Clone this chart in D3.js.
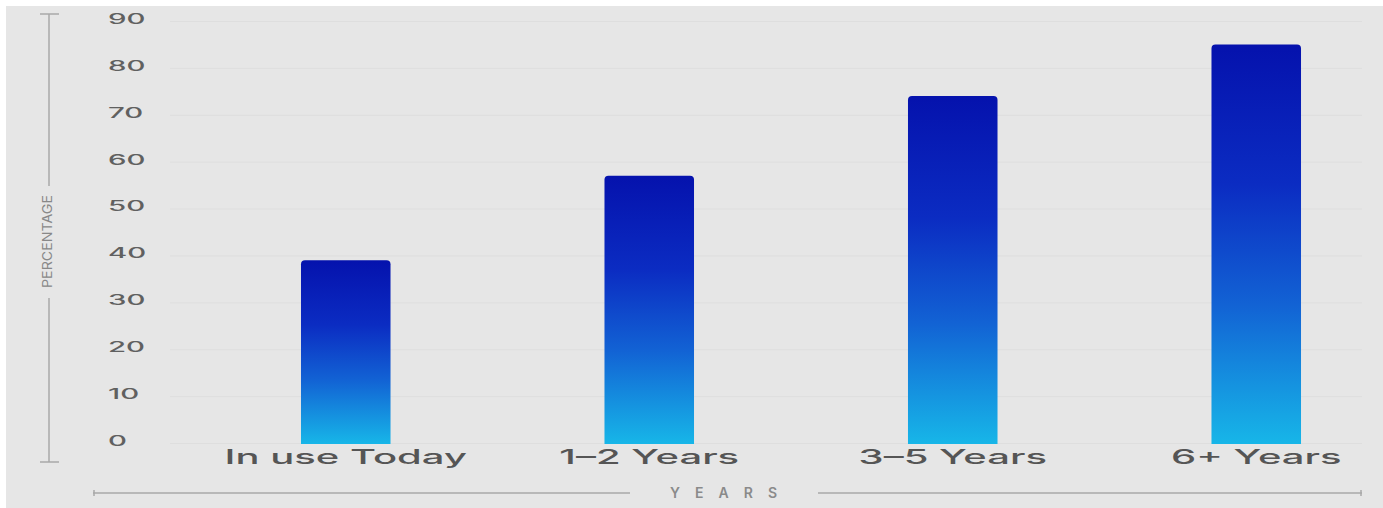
<!DOCTYPE html>
<html>
<head>
<meta charset="utf-8">
<script src="https://cdn.jsdelivr.net/npm/d3@7/dist/d3.min.js"></script>
<style>
  html, body { margin: 0; padding: 0; background: #ffffff; }
  svg { display: block; }
  text { font-family: Inter, "Noto Sans", sans-serif; }
</style>
</head>
<body>
<svg id="chart" width="1383" height="508"></svg>
<script>
// Share of respondents by adoption horizon
const categories = ["In use Today", "1\u20132 Years", "3\u20135 Years", "6+ Years"];
const percentages = [39, 57, 74, 85];
const yTicks = [0, 10, 20, 30, 40, 50, 60, 70, 80, 90];
const yTitle = "PERCENTAGE";
const xTitle = "YEARS";

const W = 1383, H = 508;
const svg = d3.select("#chart");

// panel
svg.append("rect").attr("x", 6).attr("y", 6).attr("width", W - 6).attr("height", H - 6)
  .attr("fill", "#e6e6e6");

const x = d3.scaleBand().domain(categories).range([194, 1408])
  .paddingInner(0.705).paddingOuter(0.3525);
const y = d3.scaleLinear().domain([0, 90]).range([443, 21]);

// bar gradient: deep blue at top fading to cyan at the base
const defs = svg.append("defs");
const grad = defs.append("linearGradient").attr("id", "barGrad")
  .attr("x1", 0).attr("y1", 0).attr("x2", 0).attr("y2", 1);
[[0, "#0512ad"], [0.35, "#0b2cc2"], [0.65, "#1262d4"], [1, "#17b6e8"]].forEach(([o, c]) =>
  grad.append("stop").attr("offset", o).attr("stop-color", c));

// grid lines
const yAxis = d3.axisLeft(y).tickValues(yTicks).tickSize(-(1362 - 170)).tickFormat("");
svg.append("g").attr("transform", "translate(170,0)").call(yAxis)
  .call(g => g.select(".domain").remove())
  .call(g => g.selectAll(".tick line").attr("stroke", "#dedede").attr("stroke-width", 1));

// tick labels (wide lettering)
const tickG = svg.append("g");
tickG.selectAll("text").data(yTicks).join("text")
  .attr("transform", d => `translate(108,${y(d) - 2}) scale(2.1,1)`)
  .attr("dominant-baseline", "central")
  .attr("font-size", 14).attr("font-weight", 500).attr("fill", "#606060")
  .text(d => d);

// bars with rounded top corners
const r = 4;
svg.append("g").selectAll("path").data(percentages).join("path")
  .attr("fill", "url(#barGrad)")
  .attr("d", (d, i) => {
    const x0 = x(categories[i]), w = x.bandwidth(), yt = y(d), yb = y(0) + 1;
    return `M${x0},${yb}V${yt + r}Q${x0},${yt} ${x0 + r},${yt}H${x0 + w - r}Q${x0 + w},${yt} ${x0 + w},${yt + r}V${yb}Z`;
  });

// category labels
svg.append("g").selectAll("text").data(categories).join("text")
  .attr("transform", d => `translate(${x(d) + x.bandwidth() / 2},464) scale(2.0,1)`)
  .attr("text-anchor", "middle")
  .attr("font-size", 20).attr("font-weight", 500).attr("fill", "#555555")
  .text(d => d);

// y-axis title with bracket line
const axisCol = "#a8a8a8";
const yLine = svg.append("g").attr("stroke", axisCol).attr("stroke-width", 1.5);
yLine.append("line").attr("x1", 49).attr("x2", 49).attr("y1", 14).attr("y2", 186);
yLine.append("line").attr("x1", 49).attr("x2", 49).attr("y1", 298).attr("y2", 462);
yLine.append("line").attr("x1", 40).attr("x2", 59).attr("y1", 14).attr("y2", 14);
yLine.append("line").attr("x1", 40).attr("x2", 59).attr("y1", 462).attr("y2", 462);
svg.append("text")
  .attr("transform", "translate(47,241.5) rotate(-90)")
  .attr("text-anchor", "middle").attr("dominant-baseline", "central")
  .attr("font-family", "'DejaVu Sans Condensed', 'Liberation Sans Narrow', sans-serif")
  .attr("font-size", 13).attr("fill", "#888888")
  .attr("textLength", 93).attr("lengthAdjust", "spacingAndGlyphs")
  .text(yTitle);

// x-axis title with bracket line
const xLine = svg.append("g").attr("stroke", axisCol).attr("stroke-width", 1.5);
xLine.append("line").attr("x1", 93).attr("x2", 630).attr("y1", 493).attr("y2", 493);
xLine.append("line").attr("x1", 818).attr("x2", 1362).attr("y1", 493).attr("y2", 493);
xLine.append("line").attr("x1", 94).attr("x2", 94).attr("y1", 490).attr("y2", 496);
xLine.append("line").attr("x1", 1361).attr("x2", 1361).attr("y1", 490).attr("y2", 496);
svg.append("text")
  .attr("x", 670).attr("y", 492)
  .attr("dominant-baseline", "central")
  .attr("font-size", 14).attr("font-weight", 600).attr("fill", "#8a8a8a")
  .attr("textLength", 107).attr("lengthAdjust", "spacing")
  .text(xTitle);
</script>
</body>
</html>
